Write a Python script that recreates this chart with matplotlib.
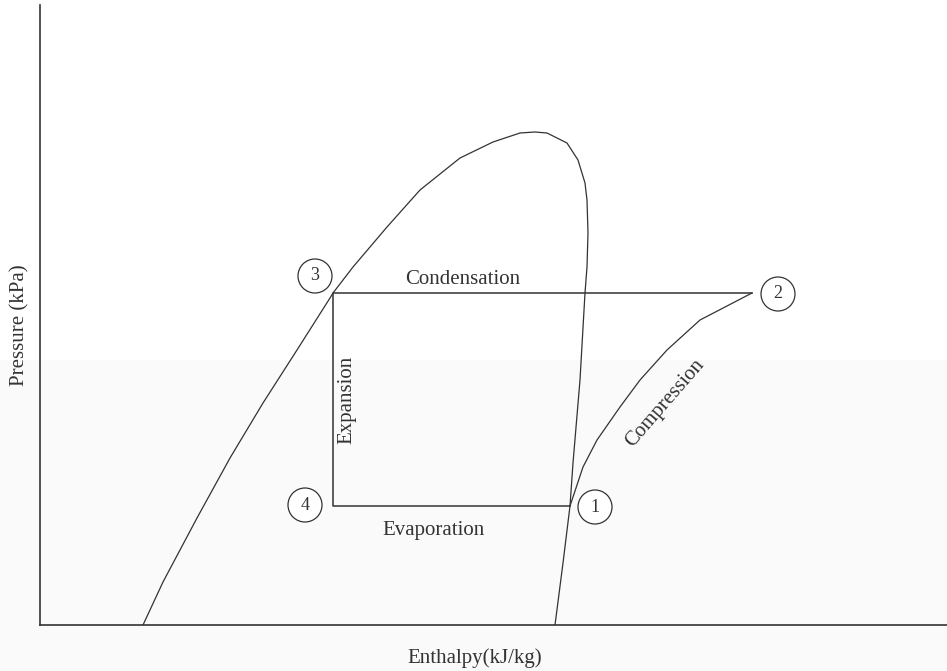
import matplotlib.pyplot as plt
from matplotlib.patches import Circle, Rectangle

# saturation dome (enthalpy, pressure) in arbitrary units
dome_h = [103, 123, 157, 190, 223, 257, 290, 293, 313, 347, 380, 420, 453, 480,
          495, 507, 527, 538, 545, 547, 548, 547, 545, 540, 533, 530, 523, 515]
dome_p = [0, 43, 107, 167, 222, 275, 327, 332, 358, 398, 435, 467, 483, 492,
          493, 492, 482, 465, 442, 425, 392, 358, 332, 245, 162, 119, 62, 0]

# cycle states 1-4
state_h = [530, 712, 293, 293]
state_p = [119, 332, 332, 119]
state_names = ['1', '2', '3', '4']
label_h = [555, 738, 275, 265]
label_p = [118, 331, 349, 120]

# compression curve 1 -> 2
comp_h = [530, 543, 557, 580, 600, 627, 660, 712]
comp_p = [119, 158, 185, 218, 245, 275, 305, 332]

col = '#333333'
font = 'Liberation Serif'

fig = plt.figure(figsize=(9.47, 6.71), dpi=100)
# faint grey band of the scanned page
fig.patches.append(Rectangle((0, 0), 1, 1 - 360/671, transform=fig.transFigure,
                             facecolor='#fafafa', edgecolor='none', zorder=-5))
ax = fig.add_axes([40/947, 46/671, 907/947, 620/671])
ax.set_facecolor('none')
ax.set_xlim(0, 907)
ax.set_ylim(0, 620)
for s in ['top', 'right']:
    ax.spines[s].set_visible(False)
for s in ['left', 'bottom']:
    ax.spines[s].set_color(col)
    ax.spines[s].set_linewidth(1.2)
ax.set_xticks([])
ax.set_yticks([])

ax.plot(dome_h, dome_p, color=col, lw=0.9)
ax.plot(comp_h, comp_p, color=col, lw=0.9)

# condensation 2->3, expansion 3->4, evaporation 4->1
ax.plot([state_h[1], state_h[2], state_h[3], state_h[0]],
        [state_p[1], state_p[2], state_p[3], state_p[0]], color=col, lw=1.1)

for n, x, y in zip(state_names, label_h, label_p):
    ax.add_patch(Circle((x, y), 17, facecolor='white', edgecolor=col, lw=0.9, zorder=3))
    ax.text(x, y, n, ha='center', va='center', fontsize=13, family=font, color=col, zorder=4)

ax.text(423, 346, 'Condensation', ha='center', va='center', fontsize=15, family=font, color=col)
ax.text(307, 225, 'Expansion', ha='center', va='center', rotation=90, fontsize=15, family=font, color=col)
ax.text(393, 95, 'Evaporation', ha='center', va='center', fontsize=15, family=font, color=col)
ax.text(625, 222, 'Compression', ha='center', va='center', rotation=49, fontsize=15, family=font, color=col)

fig.text(475/947, 1 - 658/671, 'Enthalpy(kJ/kg)', ha='center', va='center', fontsize=15, family=font, color=col)
fig.text(20/947, 1 - 325/671, 'Pressure (kPa)', ha='center', va='center', rotation=90, fontsize=15, family=font, color=col)

fig.savefig('out.png', dpi=100)
